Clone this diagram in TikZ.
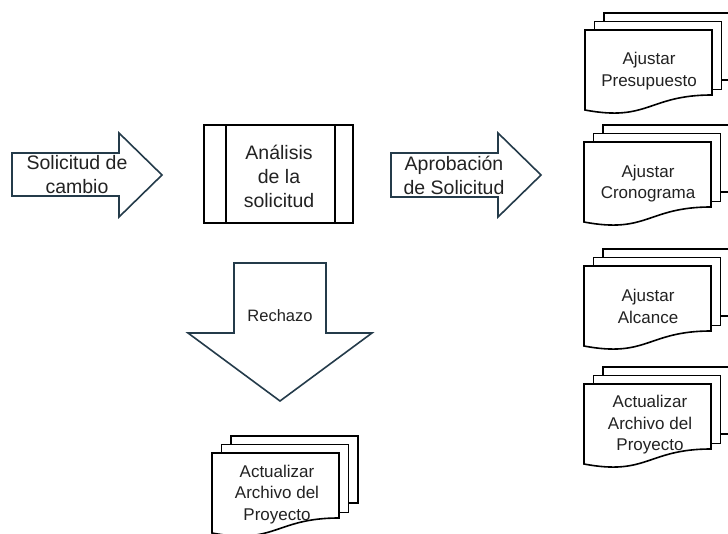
\documentclass[tikz,border=0pt]{standalone}
\usepackage{fontspec}
\setmainfont{Liberation Sans}
\definecolor{arrowline}{HTML}{243B4A}
\definecolor{txt}{HTML}{222222}
\tikzset{
  x=1pt, y=-1pt,
  bigarrow/.style={draw=arrowline, line width=1.6pt, fill=white, line join=miter},
  boxline/.style={draw=black, line width=1.6pt, fill=white},
  docline/.style={draw=black, line width=1.6pt, fill=white, line join=miter},
  bigtext/.style={text=txt, align=center, font=\fontsize{19.5}{24}\selectfont, inner sep=0pt},
  midtext/.style={text=txt, align=center, font=\fontsize{16.5}{21}\selectfont, inner sep=0pt},
  doctext/.style={text=txt, align=center, font=\fontsize{17}{21.5}\selectfont, inner sep=0pt},
  docstack/.pic={
    \path[docline] (19,-17) rectangle (146,50);
    \path[docline] (9.5,-8.5) rectangle (136.5,59.5);
    \path[docline] (0,0) -- (127,0) -- (127,65) .. controls (63.5,65) and (63.5,92) .. (0,80) -- cycle;
  }
}
\begin{document}
\begin{tikzpicture}
\clip (0,0) rectangle (728,534);
\fill[white] (0,0) rectangle (728,534);

% input arrow
\path[bigarrow] (12,153) -- (119,153) -- (119,133) -- (162,175) -- (119,217) -- (119,196) -- (12,196) -- cycle;
\node[bigtext] (sol) at (77,175) {Solicitud de\\cambio};

% analysis box
\path[boxline] (204,125) rectangle (353,223);
\draw[line width=1.6pt] (226,125) -- (226,223);
\draw[line width=1.6pt] (335,125) -- (335,223);
\node[bigtext] (ana) at (279,176.5) {Análisis\\de la\\solicitud};

% approval arrow
\path[bigarrow] (391,153) -- (498,153) -- (498,133) -- (541,175) -- (498,217) -- (498,197) -- (391,197) -- cycle;
\node[bigtext] (apr) at (454,175.5) {Aprobación\\de Solicitud};

% rejection arrow
\path[bigarrow] (234,263) -- (326,263) -- (326,333) -- (372,333) -- (280,401) -- (188,333) -- (234,333) -- cycle;
\node[midtext] (rech) at (280,316) {Rechazo};

% document stacks
\pic at (585,30) {docstack};
\node[doctext] (pres) at (649,71) {Ajustar\\Presupuesto};
\pic at (584,142) {docstack};
\node[doctext] (cron) at (648,183.5) {Ajustar\\Cronograma};
\pic at (584,266) {docstack};
\node[doctext] (alc) at (648,306.5) {Ajustar\\Alcance};
\pic at (584,384) {docstack};
\node[doctext] (arch1) at (650,425) {Actualizar\\Archivo del\\Proyecto};
\pic at (212,453) {docstack};
\node[doctext] (arch2) at (277,494.5) {Actualizar\\Archivo del\\Proyecto};
\end{tikzpicture}
\end{document}
